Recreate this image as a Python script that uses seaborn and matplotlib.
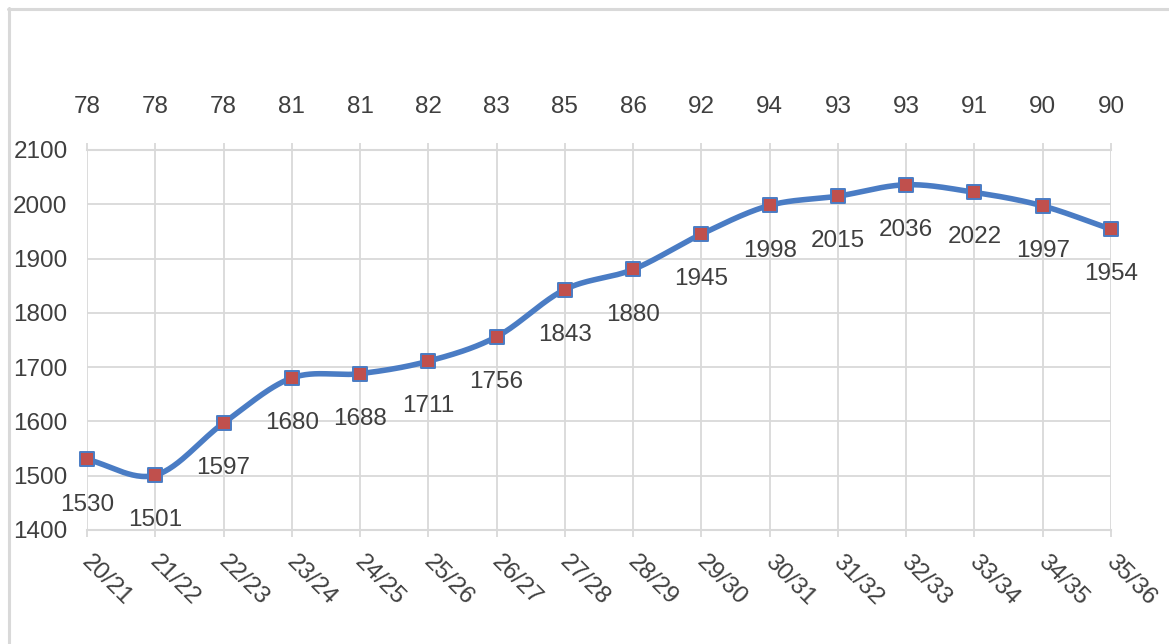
import numpy as np
import pandas as pd
import matplotlib
matplotlib.use("Agg")
import matplotlib.pyplot as plt
import matplotlib.transforms as mtransforms
from matplotlib.lines import Line2D
import seaborn as sns

# ---- data ----
seasons = ["20/21", "21/22", "22/23", "23/24", "24/25", "25/26", "26/27", "27/28",
           "28/29", "29/30", "30/31", "31/32", "32/33", "33/34", "34/35", "35/36"]
values = [1530, 1501, 1597, 1680, 1688, 1711, 1756, 1843,
          1880, 1945, 1998, 2015, 2036, 2022, 1997, 1954]
top_values = [78, 78, 78, 81, 81, 82, 83, 85, 86, 92, 94, 93, 93, 91, 90, 90]
y_ticks = [1400, 1500, 1600, 1700, 1800, 1900, 2000, 2100]

TEXT = "#3f3f3f"
GRID = "#d9d9d9"
LINE = "#4a7cc4"
MARK = "#c0504d"
FS = 17.5

sns.set_theme(style="white")
plt.rcParams["font.family"] = ["Liberation Sans", "DejaVu Sans"]

fig = plt.figure(figsize=(11.69, 6.44), dpi=100)
W, H = 1169, 644
ax = fig.add_axes([87 / W, (H - 530) / H, (1111 - 87) / W, 380 / H])

x = np.arange(len(seasons))
df = pd.DataFrame({"x": x, "value": values})

# smoothed line (Catmull-Rom through the data points, as Excel "smoothed line")
def catmull_rom(xs, ys, n=30):
    px = np.concatenate([[2 * xs[0] - xs[1]], xs, [2 * xs[-1] - xs[-2]]])
    py = np.concatenate([[2 * ys[0] - ys[1]], ys, [2 * ys[-1] - ys[-2]]])
    outx, outy = [], []
    for i in range(1, len(px) - 2):
        t = np.linspace(0, 1, n, endpoint=False)
        for arr, out in ((px, outx), (py, outy)):
            p0, p1, p2, p3 = arr[i - 1], arr[i], arr[i + 1], arr[i + 2]
            out.extend(0.5 * ((2 * p1) + (-p0 + p2) * t
                              + (2 * p0 - 5 * p1 + 4 * p2 - p3) * t ** 2
                              + (-p0 + 3 * p1 - 3 * p2 + p3) * t ** 3))
    outx.append(xs[-1]); outy.append(ys[-1])
    return np.array(outx), np.array(outy)

sx, sy = catmull_rom(x.astype(float), np.array(values, dtype=float))
smooth = pd.DataFrame({"x": sx, "value": sy})
sns.lineplot(data=smooth, x="x", y="value", ax=ax, color=LINE, linewidth=4.0,
             sort=False, estimator=None, zorder=3)
ax.lines[-1].set_clip_on(False)
ax.lines[-1].set_solid_capstyle("round")

sns.scatterplot(data=df, x="x", y="value", ax=ax, marker="s", s=115,
                color=MARK, edgecolor=LINE, linewidth=1.4, zorder=4, clip_on=False)

for xi, v in zip(x, values):
    ax.annotate(str(v), (xi, v), xytext=(0, -32.5), textcoords="offset points",
                ha="center", va="center", fontsize=FS, color=TEXT, zorder=5)

ax.set_xlim(0, len(seasons) - 1)
ax.set_ylim(1400, 2100)
ax.set_yticks(y_ticks)
ax.set_yticklabels([str(t) for t in y_ticks])
ax.set_xticks(x)
ax.set_xticklabels(seasons, rotation=-45, ha="left", va="top", rotation_mode="anchor")
ax.set_xlabel("")
ax.set_ylabel("")

ax.grid(True, color=GRID, linewidth=1.3)
ax.set_axisbelow(True)
for s in ["left", "right"]:
    ax.spines[s].set_visible(False)
for s in ["top", "bottom"]:
    ax.spines[s].set_color(GRID)
    ax.spines[s].set_linewidth(1.5)

ax.tick_params(axis="y", length=0, pad=14, labelsize=FS, labelcolor=TEXT)
ax.tick_params(axis="x", which="both", bottom=True, top=True, direction="out",
               length=5, width=1.3, color=GRID, pad=10, labelsize=FS, labelcolor=TEXT)
shift = mtransforms.ScaledTranslation(6 / 100, 0, fig.dpi_scale_trans)
for lab in ax.get_xticklabels():
    lab.set_transform(lab.get_transform() + shift)

sec = ax.secondary_xaxis("top")
sec.set_xticks(x)
sec.set_xticklabels([str(t) for t in top_values])
sec.tick_params(length=0, pad=23, labelsize=FS, labelcolor=TEXT)
sec.spines["top"].set_visible(False)

# chart frame (light gray lines on left and top)
fig.add_artist(Line2D([8.5 / W, 8.5 / W], [0, 1 - 8 / H], color="#d9d9d9", linewidth=2.2))
fig.add_artist(Line2D([8 / W, 1], [1 - 9 / H, 1 - 9 / H], color="#d9d9d9", linewidth=2.2))

fig.savefig("out.png", dpi=100, facecolor="white")
